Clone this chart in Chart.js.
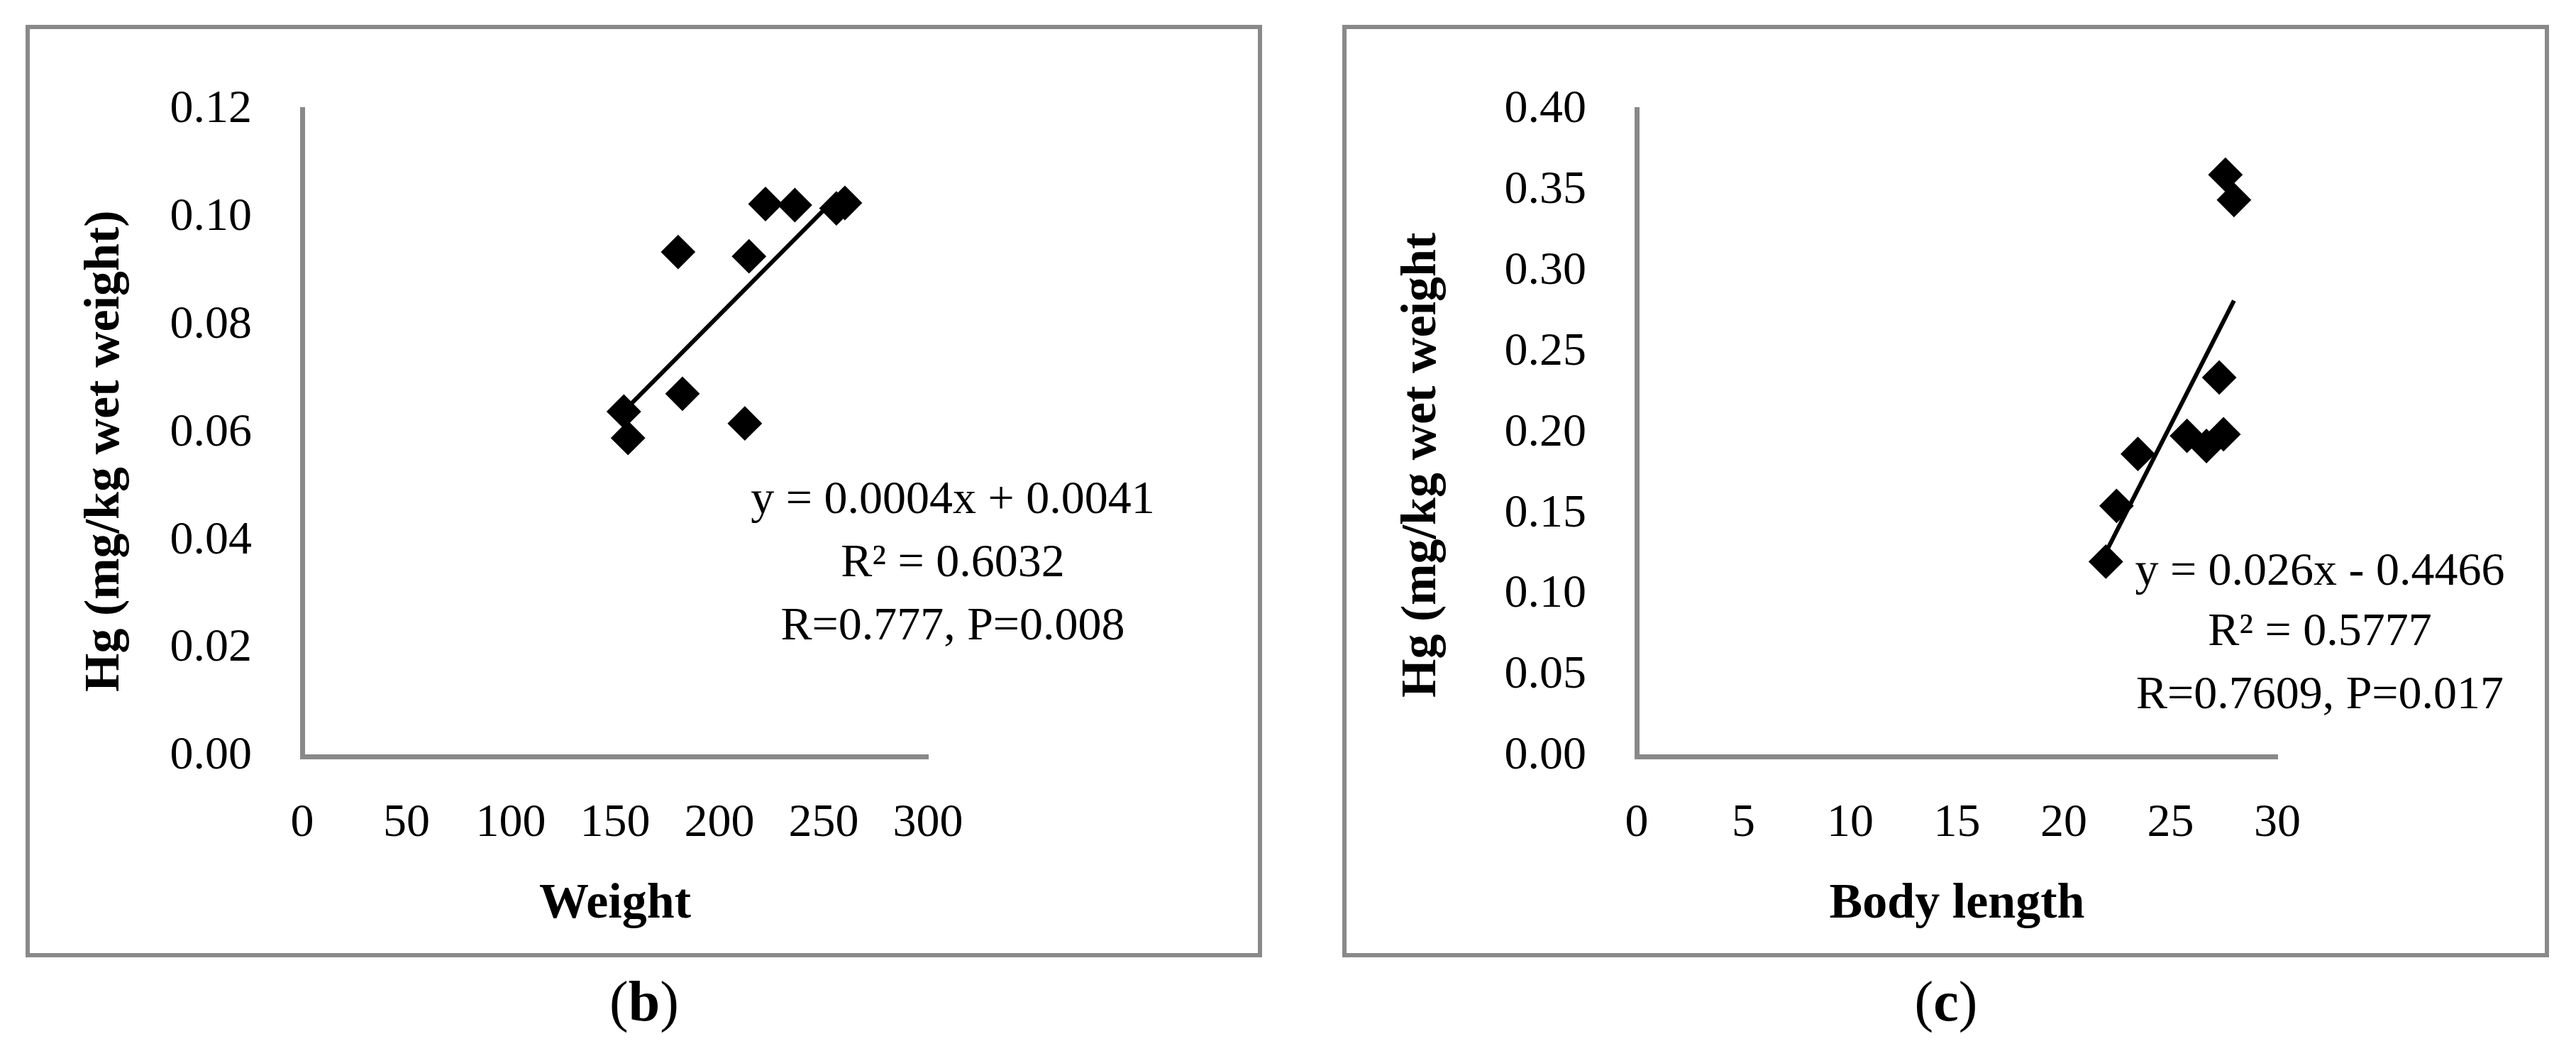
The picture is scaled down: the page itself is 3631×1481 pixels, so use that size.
<!DOCTYPE html>
<html>
<head>
<meta charset="utf-8">
<script src="https://cdn.jsdelivr.net/npm/chart.js@4.4.1/dist/chart.umd.min.js"></script>
<style>
    body { margin: 0; width: 3631px; height: 1481px; background: #fff; position: relative; overflow: hidden; }
    .frame { position: absolute; top: 35px; height: 1314px; border: 6px solid #898989; box-sizing: border-box; }
    canvas { position: absolute; }
    .cap { position: absolute; top: 1371px; width: 300px; text-align: center; font: 80px/80px 'Liberation Serif', serif; color: #000; }
</style>
</head>
<body>
<div class="frame" style="left:36px; width:1743px;"></div>
<div class="frame" style="left:1892px; width:1701px;"></div>
<canvas id="chart-b" width="1725" height="1296" style="left:45px; top:44px;"></canvas>
<canvas id="chart-c" width="1685" height="1296" style="left:1900px; top:44px;"></canvas>
<div class="cap" style="left:758px;">(<b>b</b>)</div>
<div class="cap" style="left:2593px;">(<b>c</b>)</div>
<script>
// panel (b): Hg vs weight
const weightB = [154.2, 156.2, 180.2, 182.3, 212.2, 214.2, 222.1, 236.2, 256.1, 260.2];
const hgB = [0.0640, 0.0591, 0.0936, 0.0673, 0.0618, 0.0928, 0.1025, 0.1023, 0.1017, 0.1027];
const xTicksB = [0, 50, 100, 150, 200, 250, 300];
const yTicksB = [0, 0.02, 0.04, 0.06, 0.08, 0.10, 0.12];
const yLabelsB = ['0.00', '0.02', '0.04', '0.06', '0.08', '0.10', '0.12'];
const eqB = ['y = 0.0004x + 0.0041', 'R\u00B2 = 0.6032', 'R=0.777, P=0.008'];

// panel (c): Hg vs body length
const lengthC = [21.97, 22.47, 23.47, 25.77, 26.68, 27.28, 27.48, 27.57, 27.97];
const hgC = [0.1205, 0.1550, 0.1871, 0.1983, 0.1920, 0.2344, 0.1993, 0.3598, 0.3442];
const xTicksC = [0, 5, 10, 15, 20, 25, 30];
const yTicksC = [0, 0.05, 0.10, 0.15, 0.20, 0.25, 0.30, 0.35, 0.40];
const yLabelsC = ['0.00', '0.05', '0.10', '0.15', '0.20', '0.25', '0.30', '0.35', '0.40'];
const eqC = ['y = 0.026x - 0.4466', 'R\u00B2 = 0.5777', 'R=0.7609, P=0.017'];

const AXIS_GREY = '#898989';
const SERIF = "'Liberation Serif', 'Times New Roman', serif";

// least squares trendline, like the spreadsheet one, from min x to max x
function trendline(xs, ys) {
    const n = xs.length;
    const mx = xs.reduce((a, b) => a + b, 0) / n;
    const my = ys.reduce((a, b) => a + b, 0) / n;
    let sxy = 0, sxx = 0;
    xs.forEach((x, i) => {
        sxy += (x - mx) * (ys[i] - my);
        sxx += (x - mx) * (x - mx);
    });
    const slope = sxy / sxx;
    const icpt = my - slope * mx;
    const x0 = Math.min(...xs), x1 = Math.max(...xs);
    return [{ x: x0, y: slope * x0 + icpt }, { x: x1, y: slope * x1 + icpt }];
}

// equation box and rotated y title
const panelText = {
    id: 'panelText',
    afterDraw(chart, args, opts) {
        const ctx = chart.ctx;
        ctx.save();
        ctx.fillStyle = '#000';
        ctx.textAlign = 'center';
        ctx.textBaseline = 'middle';
        ctx.font = '66px ' + SERIF;
        opts.lines.forEach((t, i) => ctx.fillText(t, opts.eqX, opts.eqY[i]));
        ctx.translate(opts.titleX, opts.titleY);
        ctx.rotate(-Math.PI / 2);
        ctx.textAlign = 'left';
        ctx.font = 'bold 70px ' + SERIF;
        ctx.fillText(opts.title, 0, 0);
        ctx.restore();
    }
};

function makeChart(id, p) {
    const points = p.xs.map((x, i) => ({ x: x, y: p.ys[i] }));
    return new Chart(document.getElementById(id), {
        type: 'scatter',
        data: {
            datasets: [
                {
                    data: points,
                    pointStyle: 'rectRot',
                    pointRadius: 23,
                    borderWidth: 2,
                    backgroundColor: '#000',
                    borderColor: '#000',
                },
                {
                    data: trendline(p.xs, p.ys),
                    showLine: true,
                    pointRadius: 0,
                    borderColor: '#000',
                    borderWidth: 6,
                },
            ],
        },
        options: {
            responsive: false,
            animation: false,
            layout: { padding: { top: 60, right: p.padRight, bottom: 0, left: 0 } },
            plugins: {
                legend: { display: false },
                tooltip: { enabled: false },
                panelText: p.text,
            },
            scales: {
                x: {
                    type: 'linear',
                    min: p.xTicks[0],
                    max: p.xTicks[p.xTicks.length - 1],
                    afterBuildTicks: s => { s.ticks = p.xTicks.map(v => ({ value: v })); },
                    afterFit: s => { s.height = 274; },
                    grid: { display: false, drawTicks: false },
                    border: { display: true, color: AXIS_GREY, width: 7 },
                    ticks: {
                        autoSkip: false,
                        maxRotation: 0,
                        padding: 55,
                        color: '#000',
                        font: { family: SERIF, size: 66 },
                    },
                    title: {
                        display: true,
                        text: p.xTitle,
                        color: '#000',
                        padding: { top: 0, bottom: 23 },
                        font: { family: SERIF, size: 70, weight: 'bold' },
                    },
                },
                y: {
                    type: 'linear',
                    min: p.yTicks[0],
                    max: p.yTicks[p.yTicks.length - 1],
                    afterBuildTicks: s => { s.ticks = p.yTicks.map(v => ({ value: v })); },
                    afterFit: s => { s.width = p.yWidth; },
                    grid: { display: false, drawTicks: false },
                    border: { display: true, color: AXIS_GREY, width: 7 },
                    ticks: {
                        padding: 71,
                        color: '#000',
                        font: { family: SERIF, size: 66 },
                        callback: (v, i) => p.yLabels[i],
                    },
                },
            },
        },
        plugins: [panelText],
    });
}

document.addEventListener('DOMContentLoaded', () => {
    makeChart('chart-b', {
        xs: weightB, ys: hgB,
        xTicks: xTicksB, yTicks: yTicksB, yLabels: yLabelsB,
        xTitle: 'Weight',
        yWidth: 381, padRight: 462,
        text: { lines: eqB, eqX: 1298, eqY: [662, 751, 840],
                title: 'Hg (mg/kg wet weight)', titleX: 104, titleY: 931 },
    });
    makeChart('chart-c', {
        xs: lengthC, ys: hgC,
        xTicks: xTicksC, yTicks: yTicksC, yLabels: yLabelsC,
        xTitle: 'Body length',
        yWidth: 407, padRight: 375,
        text: { lines: eqC, eqX: 1370, eqY: [763, 848, 937],
                title: 'Hg (mg/kg wet weight', titleX: 105, titleY: 939 },
    });
});
</script>
</body>
</html>
